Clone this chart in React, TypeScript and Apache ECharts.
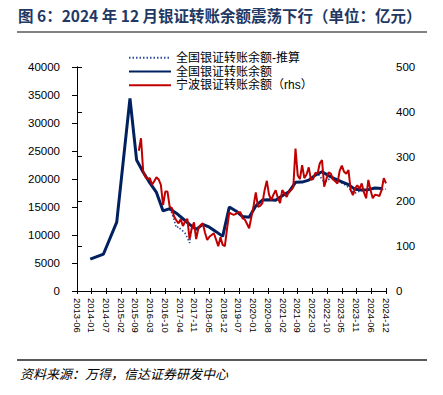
import React, { useEffect, useRef } from "react";
import * as echarts from "echarts";

// X axis tick labels (22 evenly spaced ticks)
const xTickLabels = [
  "2013-06", "2014-01", "2014-07", "2015-02", "2015-09", "2016-03", "2016-10",
  "2017-04", "2017-11", "2018-05", "2018-12", "2019-07", "2020-01", "2020-08",
  "2021-02", "2021-09", "2022-03", "2022-10", "2023-05", "2023-11", "2024-06", "2024-12",
];
const xSlots = 140; // position units along the time axis (~1 per month)

// 全国银证转账余额 (亿元), one value every 3 slots starting at slot 6 (null = no data)
const nationalStart = 6;
const nationalStep = 3;
const nationalValues = [
  5700, null, 6600, null, 12300, null, 34400, 23400, 21200, 19300, 17600, 14300,
  14700, 13900, 12900, 11900, 11000, 11900, 11400, 10600, 9750, 15000, 14300, 13300,
  13150, 15200, 16250, 16300, 16200, 17000, 17700, 19400, 19450, 19800, 20700, 21300,
  20600, 20000, 19500, 19000, 18150, 18050, 18100, 18400, 18300,
];

// 全国银证转账余额-推算 (亿元), monthly, two visible segments
const estimateStartA = 42;
const estimateValuesA = [14700, 13900, 12700, 11300, 11500, 11000, 10700, 10300, 9500, 8600, 11500];
const estimateStartB = 108;
const estimateValuesB = [
  20700, 20900, 20600, 19900, 19500, 19600, 19900, 20100, 20000, 19900, 19700,
  19500, 19300, 19100, 18800, 18500, 18000, 17700, 17500, 17700, 17800, 17900,
  18000, 18000, 18100, 18200, 18300, 18300, 18400, 18300, 18200, 18100, 18200,
];

// 宁波银证转账余额 (亿元, rhs), monthly from slot 28
const ningboStart = 28;
const ningboValues = [
  313, 341, 266, 255, 250, 252, 237, 245, 254, 249, 237, 192, 222, 222, 188, 185,
  166, 158, 151, 160, 145, 155, 161, 116, 140, 153, 116, 140, 147, 151, 130, 114,
  121, 125, 129, 115, 100, 120, 103, 100, 140, 175, 172, 170, 172, 176, 176, 162,
  160, 150, 140, 165, 190, 220, 188, 190, 196, 225, 246, 215, 203, 215, 225, 208,
  196, 225, 218, 210, 222, 225, 232, 318, 258, 250, 281, 252, 260, 276, 248, 250,
  264, 262, 285, 292, 233, 250, 265, 262, 249, 245, 240, 268, 280, 266, 262, 270,
  225, 214, 229, 236, 228, 240, 220, 207, 248, 225, 207, 215, 214, 212, 225, 252, 240,
];

const leftTicks = { min: 0, max: 40000, interval: 5000 };
const rightTicks = { min: 0, max: 500, interval: 100 };

const titleText = "图 6：2024 年 12 月银证转账余额震荡下行（单位：亿元）";
const sourceText = "资料来源：万得，信达证券研发中心";
const seriesNames = ["全国银证转账余额-推算", "全国银证转账余额", "宁波银证转账余额（rhs）"];

function toPairs(start: number, step: number, values: (number | null)[]) {
  const out: [number, number][] = [];
  values.forEach((v, i) => {
    if (v !== null) out.push([start + i * step, v]);
  });
  return out;
}

export default function App() {
  const ref = useRef<HTMLDivElement>(null);
  useEffect(() => {
    if (!ref.current) return;
    const chart = echarts.init(ref.current, undefined, { renderer: "svg" });
    const xInterval = xSlots / (xTickLabels.length - 1);
    const labelFmt = (v: number) => xTickLabels[Math.round(v / xInterval)] ?? "";
    const plainFmt = (v: number) => String(v);
    const estimateData: any[] = [
      ...toPairs(estimateStartA, 1, estimateValuesA),
      [estimateStartA + estimateValuesA.length, null],
      ...toPairs(estimateStartB, 1, estimateValuesB),
    ];
    const axisFont = { fontFamily: "Liberation Sans", color: "#000" };
    chart.setOption({
      animation: false,
      backgroundColor: "#fff",
      graphic: [
        {
          type: "text", left: 18, top: 7,
          style: { text: titleText, font: 'bold 15.5px "Noto Sans CJK SC"', fill: "#1f3864" },
        },
        { type: "line", shape: { x1: 17, y1: 32, x2: 427, y2: 32 }, style: { stroke: "#595959", lineWidth: 1.5 } },
        { type: "line", shape: { x1: 17, y1: 360, x2: 427, y2: 360 }, style: { stroke: "#222", lineWidth: 1.5 } },
        {
          type: "text", left: 20, top: 367,
          style: { text: sourceText, font: 'italic 13px "Noto Sans CJK SC"', fill: "#000" },
        },
      ],
      legend: {
        orient: "vertical", left: 128, top: 51, padding: 0, itemGap: 0.3,
        itemWidth: 42, itemHeight: 13.5,
        itemStyle: { opacity: 0 },
        textStyle: { fontSize: 12, fontFamily: '"Liberation Sans", "Noto Sans CJK SC"', color: "#000", lineHeight: 13.5 },
        data: seriesNames,
      },
      grid: { left: 77, right: 57, top: 67, bottom: 104 },
      xAxis: [
        {
          type: "value", min: 0, max: xSlots, interval: xInterval,
          axisLine: { show: true, lineStyle: { color: "#000", width: 1 } },
          axisTick: { show: true, length: 3, lineStyle: { color: "#000" } },
          axisLabel: { ...axisFont, fontSize: 9.5, rotate: -90, margin: 7, formatter: labelFmt, showMinLabel: true, showMaxLabel: true },
          splitLine: { show: false },
        },
        {
          type: "value", min: 0, max: xSlots, interval: xInterval, position: "bottom",
          axisLine: { show: false },
          axisTick: { show: true, inside: true, length: 3, lineStyle: { color: "#000" } },
          axisLabel: { show: false },
          splitLine: { show: false },
        },
      ],
      yAxis: [
        {
          type: "value", ...leftTicks,
          axisLine: { show: true, lineStyle: { color: "#000" } },
          axisTick: { show: true, length: 5, lineStyle: { color: "#000" } },
          axisLabel: { ...axisFont, fontSize: 11.5, margin: 17, formatter: plainFmt },
          splitLine: { show: false },
        },
        {
          type: "value", ...rightTicks, position: "right",
          axisLine: { show: true, lineStyle: { color: "#000" } },
          axisTick: { show: true, length: 5, lineStyle: { color: "#000" } },
          axisLabel: { ...axisFont, fontSize: 11.5, margin: 10, formatter: plainFmt },
          splitLine: { show: false },
        },
      ],
      series: [
        {
          name: seriesNames[0], type: "line", xAxisIndex: 0, yAxisIndex: 0,
          data: estimateData, symbol: "none", connectNulls: false,
          lineStyle: { color: "#2a4a9a", width: 1.6, type: [1.5, 2] },
          itemStyle: { color: "#2a4a9a" }, z: 2,
        },
        {
          name: seriesNames[1], type: "line", xAxisIndex: 0, yAxisIndex: 0,
          data: toPairs(nationalStart, nationalStep, nationalValues), symbol: "none",
          lineStyle: { color: "#002060", width: 3 }, itemStyle: { color: "#002060" }, z: 3,
        },
        {
          name: seriesNames[2], type: "line", xAxisIndex: 0, yAxisIndex: 1,
          data: toPairs(ningboStart, 1, ningboValues), symbol: "none",
          lineStyle: { color: "#c00000", width: 2 }, itemStyle: { color: "#c00000" }, z: 4,
        },
      ],
    });
    return () => chart.dispose();
  }, []);
  return (
    <div
      ref={ref}
      style={{ position: "fixed", left: 0, top: 0, width: 443, height: 395, background: "#fff" }}
    />
  );
}
